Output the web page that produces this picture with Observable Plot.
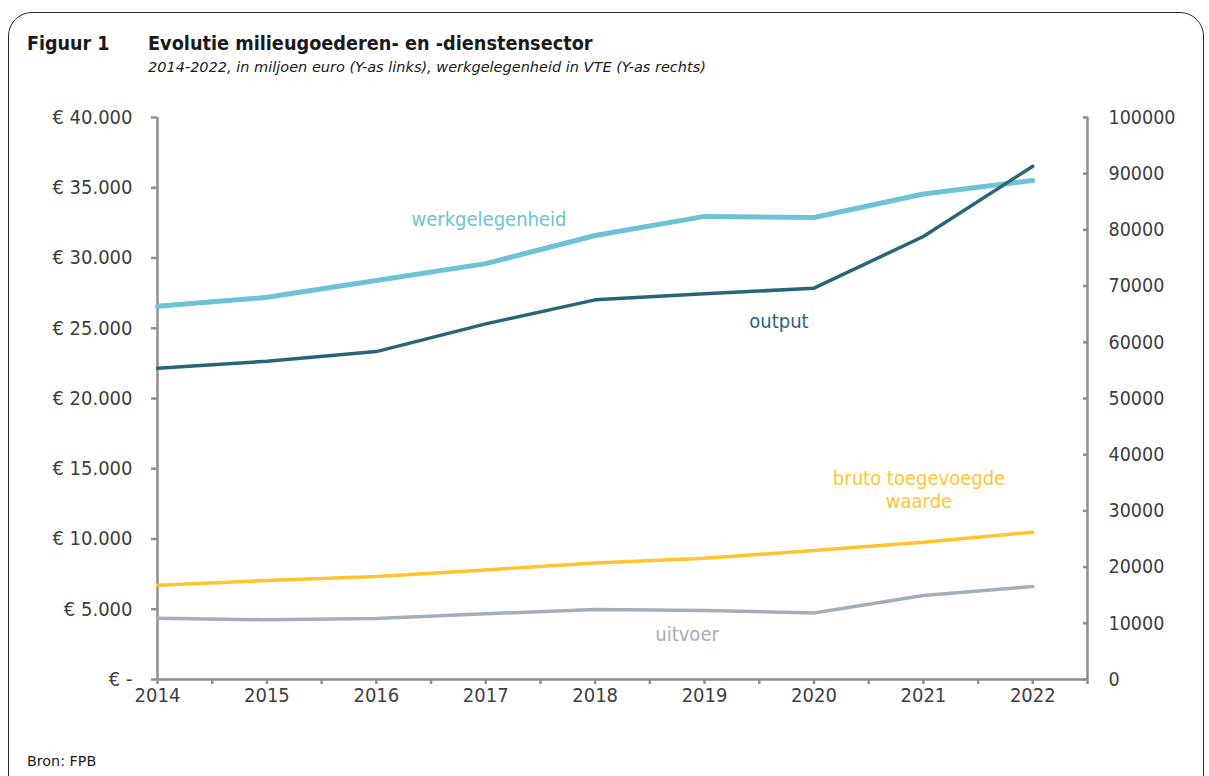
<!DOCTYPE html>
<html>
<head>
<meta charset="utf-8">
<script src="https://cdn.jsdelivr.net/npm/d3@7"></script>
<script src="https://cdn.jsdelivr.net/npm/@observablehq/plot@0.6"></script>
<style>
  html, body { margin: 0; padding: 0; background: #fff; width: 1209px; height: 776px; overflow: hidden; }
  body { position: relative; font-family: "DejaVu Sans Condensed", "DejaVu Sans", sans-serif; color: #1a1a1a; }
  #frame { position: absolute; left: 8px; top: 12px; width: 1196px; height: 790px; border: 1.6px solid #2b2b2b; border-radius: 24px; box-sizing: border-box; }
  .t { position: absolute; white-space: nowrap; }
  #fig { left: 27px; top: 33px; font-size: 19.5px; font-weight: bold; line-height: 22px; }
  #title { left: 148px; top: 33px; font-size: 19.7px; font-weight: bold; line-height: 22px; }
  #subtitle { left: 148px; top: 58px; font-family: "DejaVu Sans", sans-serif; font-size: 14.5px; font-style: italic; line-height: 18px; }
  #source { left: 27px; top: 753px; font-family: "DejaVu Sans", sans-serif; font-size: 14.3px; line-height: 17px; }
  #chart { position: absolute; left: 0; top: 100px; }
</style>
</head>
<body>
<div id="frame"></div>
<div class="t" id="fig">Figuur 1</div>
<div class="t" id="title">Evolutie milieugoederen- en -dienstensector</div>
<div class="t" id="subtitle">2014-2022, in miljoen euro (Y-as links), werkgelegenheid in VTE (Y-as rechts)</div>
<div id="chart"></div>
<div class="t" id="source">Bron: FPB</div>
<script>
// ---- data ----
const years = [2014, 2015, 2016, 2017, 2018, 2019, 2020, 2021, 2022];
const werkgelegenheid = [66400, 68000, 71000, 74000, 79000, 82400, 82200, 86400, 88800]; // VTE, right axis
const output = [22160, 22650, 23340, 25310, 27020, 27450, 27850, 31530, 36530];           // mln euro
const brutoToegevoegdeWaarde = [6710, 7050, 7330, 7800, 8300, 8630, 9180, 9770, 10480];  // mln euro
const uitvoer = [4360, 4250, 4340, 4680, 4980, 4910, 4740, 5980, 6620];                  // mln euro
const leftTicks = [0, 5000, 10000, 15000, 20000, 25000, 30000, 35000, 40000];
const rightTicks = [0, 10000, 20000, 30000, 40000, 50000, 60000, 70000, 80000, 90000, 100000];
const xMinorTicks = [2014, 2014.5, 2015, 2015.5, 2016, 2016.5, 2017, 2017.5, 2018, 2018.5, 2019, 2019.5, 2020, 2020.5, 2021, 2021.5, 2022, 2022.5];
const seriesNames = ["werkgelegenheid", "output", "bruto toegevoegde\nwaarde", "uitvoer"];
const seriesColors = ["#6cc3d5", "#2a6478", "#ffc52f", "#a2aebb"];
// label anchor positions (year, left-axis value)
const labelYears = [2017.03, 2019.68, 2020.96, 2018.84];
const labelValues = [32800, 25550, 13550, 3270];

// ---- build ----
const rightMax = 100000, leftMax = 40000;
const k = leftMax / rightMax; // right-axis values mapped onto the left scale
const xEnd = 2022.5;

const rows = (vals, scale) => years.map((y, i) => ({year: y, value: vals[i] * scale}));
const sWerk = rows(werkgelegenheid, k);
const sOut = rows(output, 1);
const sBruto = rows(brutoToegevoegdeWaarde, 1);
const sUit = rows(uitvoer, 1);
const labels = seriesNames.map((n, i) => ({name: n, year: labelYears[i], value: labelValues[i], color: seriesColors[i]}));

const fmtEuro = d => d === 0 ? "€ -" : "€ " + d3.format(",")(d).replace(/,/g, ".");
const axisGray = "#8f8f8f";
const textGray = "#404040";

const chart = Plot.plot({
  width: 1209,
  height: 640,
  marginLeft: 157,
  marginRight: 122,
  marginTop: 17,
  marginBottom: 61,
  style: {fontFamily: "'DejaVu Sans Condensed', 'DejaVu Sans', sans-serif", fontSize: "20px", background: "transparent"},
  x: {domain: [2014, xEnd]},
  y: {domain: [0, leftMax]},
  marks: [
    // axis lines
    Plot.ruleX([2014], {stroke: axisGray, strokeWidth: 2.5}),
    Plot.ruleX([xEnd], {stroke: axisGray, strokeWidth: 2.5}),
    Plot.ruleY([0], {stroke: axisGray, strokeWidth: 2.5}),
    // left axis
    Plot.axisY({anchor: "left", ticks: leftTicks, tickSize: 6, tickPadding: 19, tickFormat: fmtEuro,
      stroke: axisGray, strokeWidth: 2.5, fill: textGray, fontSize: 20, label: null}),
    // right axis (ticks pointing inward)
    Plot.axisY({anchor: "right", ticks: rightTicks.map(d => d * k), tickSize: 5, dx: -5, text: null,
      stroke: axisGray, strokeWidth: 2.5, label: null}),
    Plot.axisY({anchor: "right", ticks: rightTicks.map(d => d * k), tickSize: 0, tickPadding: 21,
      tickFormat: d => String(Math.round(d / k)), fill: textGray, fontSize: 19.5, label: null}),
    // x axis
    Plot.axisX({ticks: xMinorTicks, tickSize: 5, text: null, stroke: axisGray, strokeWidth: 2.5, label: null}),
    Plot.axisX({ticks: years, tickSize: 0, tickPadding: 8, tickFormat: d => String(d), fill: textGray, fontSize: 20, label: null}),
    // series
    Plot.line(sWerk, {x: "year", y: "value", stroke: seriesColors[0], strokeWidth: 5, strokeLinecap: "round", strokeLinejoin: "round"}),
    Plot.line(sBruto, {x: "year", y: "value", stroke: seriesColors[2], strokeWidth: 3.5, strokeLinecap: "round", strokeLinejoin: "round"}),
    Plot.line(sUit, {x: "year", y: "value", stroke: seriesColors[3], strokeWidth: 3.5, strokeLinecap: "round", strokeLinejoin: "round"}),
    Plot.line(sOut, {x: "year", y: "value", stroke: seriesColors[1], strokeWidth: 3.5, strokeLinecap: "round", strokeLinejoin: "round"}),
    // direct labels
    Plot.text(labels, {x: "year", y: "value", text: "name", fill: "color", fontSize: 20, textAnchor: "middle", lineHeight: 1.15})
  ]
});
document.getElementById("chart").appendChild(chart);
</script>
</body>
</html>
